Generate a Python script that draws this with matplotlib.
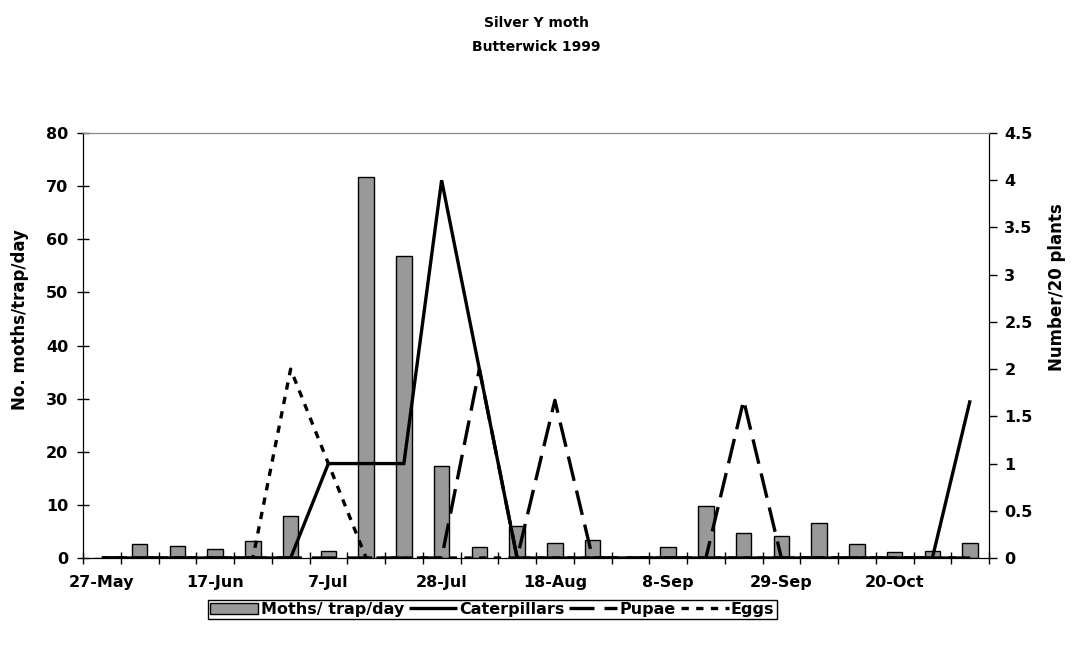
import matplotlib
matplotlib.use("Agg")
import matplotlib.pyplot as plt
import numpy as np

plt.rcParams['font.family'] = ['DejaVu Sans']
plt.rcParams['font.weight'] = 'bold'

# Weekly sampling dates (every third one is labelled)
weeks = ['27-May', '3-Jun', '10-Jun', '17-Jun', '24-Jun', '1-Jul', '7-Jul', '14-Jul',
         '21-Jul', '28-Jul', '4-Aug', '11-Aug', '18-Aug', '25-Aug', '1-Sep', '8-Sep',
         '15-Sep', '22-Sep', '29-Sep', '6-Oct', '13-Oct', '20-Oct', '27-Oct', '3-Nov']

# Moths per trap per day (left axis)
moths = [0, 2.7, 2.2, 1.7, 3.2, 8.0, 1.3, 71.7, 56.9, 17.3, 2.0, 6.0,
         2.9, 3.4, 0, 2.1, 9.7, 4.8, 4.2, 6.5, 2.6, 1.1, 1.4, 2.8]

# Counts per 20 plants (right axis)
caterpillars = [0, 0, 0, 0, 0, 0, 1, 1, 1, 4, 2, 0,
                0, 0, 0, 0, 0, 0, 0, 0, 0, 0, 0, 1.67]
pupae = [0, 0, 0, 0, 0, 0, 0, 0, 0, 0, 2, 0,
         1.67, 0, 0, 0, 0, 1.67, 0, 0, 0, 0, 0, 0]
eggs = [0, 0, 0, 0, 0, 2, 1, 0, 0, 0, 0, 0,
        0, 0, 0, 0, 0, 0, 0, 0, 0, 0, 0, 0]

n = len(weeks)
x = np.arange(n)

TICK_FS = 11.5
LABEL_FS = 12

fig = plt.figure(figsize=(10.72, 6.53), dpi=100)
ax = fig.add_axes([83 / 1072, 1 - 558 / 653, (989 - 83) / 1072, (558 - 133) / 653])
ax2 = ax.twinx()

bars = ax.bar(x, moths, width=0.41, color='#999999', edgecolor='black',
              linewidth=1.0, label='Moths/ trap/day', zorder=2)

lw = 2.4
l1, = ax2.plot(x, caterpillars, color='black', lw=lw, solid_capstyle='butt',
               solid_joinstyle='miter', label='Caterpillars')
l2, = ax2.plot(x, pupae, color='black', lw=lw, dashes=(7.5, 3), dash_capstyle='butt',
               label='Pupae')
l3, = ax2.plot(x, eggs, color='black', lw=lw, dashes=(2.2, 2.2), dash_capstyle='butt',
               label='Eggs')

ax.set_xlim(-0.5, n - 0.5)
ax.set_ylim(0, 80)
ax2.set_ylim(0, 4.5)

ax.set_yticks(np.arange(0, 81, 10))
ax2.set_yticks(np.arange(0, 4.51, 0.5))
ax2.set_yticklabels(['0', '0.5', '1', '1.5', '2', '2.5', '3', '3.5', '4', '4.5'])

# tick marks at category boundaries, labels at every third category centre
ax.set_xticks(np.arange(-0.5, n, 1.0))
ax.set_xticklabels([])
ax.set_xticks(x[::3], minor=True)
ax.set_xticklabels(weeks[::3], minor=True)
ax.tick_params(axis='x', which='major', direction='inout', length=9, width=1, color='black')
ax.tick_params(axis='x', which='minor', length=0, pad=12, labelsize=TICK_FS)
ax.tick_params(axis='y', direction='inout', length=9, width=1, pad=6, labelsize=TICK_FS)
ax2.tick_params(axis='y', direction='out', length=6, width=1, pad=5, labelsize=TICK_FS)
ax2.tick_params(axis='x', which='both', length=0)

for t in ax.get_xticklabels(minor=True) + ax.get_yticklabels() + ax2.get_yticklabels():
    t.set_fontweight('bold')

for a in (ax, ax2):
    a.spines['top'].set_color('#888888')
    a.spines['left'].set_color('black')
    a.spines['right'].set_color('black')
    a.spines['bottom'].set_color('black')

ax.set_ylabel('No. moths/trap/day', fontsize=LABEL_FS, fontweight='bold')
ax.yaxis.set_label_coords((20 - 83) / 906, (558 - 320) / 425)
ax.yaxis.label.set_verticalalignment('center')
ax2.set_ylabel('Number/20 plants', fontsize=LABEL_FS, fontweight='bold', rotation=90)
ax2.yaxis.set_label_coords((1057 - 83) / 906, (558 - 287) / 425)
ax2.yaxis.label.set_verticalalignment('center')

fig.text(0.5, 1 - 23 / 653, 'Silver Y moth', ha='center', va='center',
         fontsize=10, fontweight='bold')
fig.text(0.5, 1 - 47 / 653, 'Butterwick 1999', ha='center', va='center',
         fontsize=10, fontweight='bold')

leg = fig.legend(handles=[bars, l1, l2, l3], loc='center',
                 bbox_to_anchor=(492.5 / 1072, 1 - 609.5 / 653), ncol=4,
                 frameon=True, fancybox=False, edgecolor='black', framealpha=1,
                 prop={'size': TICK_FS, 'weight': 'bold'}, handlelength=3.0,
                 handletextpad=0.15, columnspacing=0.3, borderpad=0.15,
                 borderaxespad=0)
leg.get_frame().set_linewidth(1.0)

fig.savefig('out.png', dpi=100)
